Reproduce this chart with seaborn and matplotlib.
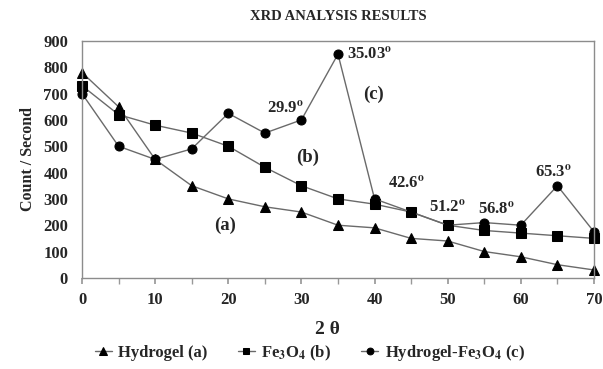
import numpy as np
import pandas as pd
import matplotlib
matplotlib.use("Agg")
import matplotlib.pyplot as plt
from matplotlib.ticker import MultipleLocator
import seaborn as sns

# dati
two_theta = [0, 5, 10, 15, 20, 25, 30, 35, 40, 45, 50, 55, 60, 65, 70]
hydrogel = [780, 650, 450, 350, 300, 270, 250, 200, 190, 150, 140, 100, 80, 50, 30]
fe3o4 = [730, 620, 580, 550, 500, 420, 350, 300, 280, 250, 200, 180, 170, 160, 150]
hydrogel_fe3o4 = [700, 500, 450, 490, 625, 550, 600, 850, 300, 250, 200, 210, 200, 350, 175]

series_names = ["Hydrogel (a)", "Fe$_\\mathbf{3}$O$_\\mathbf{4}$ (b)",
                "Hydrogel-Fe$_\\mathbf{3}$O$_\\mathbf{4}$ (c)"]
series_markers = ["^", "s", "o"]

peak_labels = ["29.9", "35.03", "42.6", "51.2", "56.8", "65.3"]
peak_pos = [(27.8, 646), (36.2, 850), (41.9, 361), (50.0, 270), (56.7, 262), (64.5, 403)]
curve_labels = ["(a)", "(b)", "(c)"]
curve_pos = [(19.5, 201), (30.8, 456), (39.8, 699)]

df = pd.DataFrame({"two_theta": two_theta, "a": hydrogel, "b": fe3o4, "c": hydrogel_fe3o4})

sns.set_theme(style="white")
plt.rcParams["font.family"] = ["Liberation Serif", "DejaVu Serif"]
plt.rcParams["font.weight"] = "bold"
plt.rcParams["mathtext.fontset"] = "stix"
plt.rcParams["mathtext.default"] = "bf"

fig = plt.figure(figsize=(6.03, 3.69), dpi=100)
ax = fig.add_axes([0.136, 0.247, 0.849, 0.642])

handles = []
for col, name, mk in zip(["a", "b", "c"], series_names, series_markers):
    sns.lineplot(data=df, x="two_theta", y=col, ax=ax, color="#6a6a6a", linewidth=1,
                 marker=mk, markersize=7.5 if mk == "^" else 6.5,
                 markerfacecolor="black", markeredgecolor="black", clip_on=False)
    handles.append(ax.lines[-1])

ax.set_xlim(0, 70)
ax.set_ylim(0, 900)
ax.xaxis.set_major_locator(MultipleLocator(10))
ax.xaxis.set_minor_locator(MultipleLocator(5))
ax.yaxis.set_major_locator(MultipleLocator(100))
ax.tick_params(axis="x", which="both", bottom=True, direction="out", length=4,
               color="#999999", labelsize=12, pad=6)
ax.tick_params(axis="y", left=False, labelsize=12, pad=4)
for lab in ax.get_xticklabels() + ax.get_yticklabels():
    lab.set_fontweight("bold")
for sp in ax.spines.values():
    sp.set_color("#8c8c8c")
    sp.set_linewidth(1)

ax.set_xlabel("")
ax.set_ylabel("Count / Second", fontsize=11.5, fontweight="bold", labelpad=5)
fig.text(327 / 603, 1 - 329 / 369, "2 θ", ha="center", va="center",
         fontsize=14, fontweight="bold")
fig.text(338 / 603, 1 - 17 / 369, "XRD ANALYSIS RESULTS", ha="center", va="center",
         fontsize=10.5, fontweight="bold")

for lab, (x, y) in zip(peak_labels, peak_pos):
    ha = "left" if lab in ("35.03", "42.6") else "center"
    ax.text(x, y, lab + "$^\\mathbf{o}$", ha=ha, va="center", fontsize=12,
            fontweight="bold")
for lab, (x, y) in zip(curve_labels, curve_pos):
    ax.text(x, y, lab, ha="center", va="center", fontsize=13.5, fontweight="bold")

fig.legend(handles, series_names, loc="center", bbox_to_anchor=(310 / 603, 1 - 353 / 369),
           ncol=3, frameon=False, handlelength=1.0, handletextpad=0.4, markerscale=0.75,
           columnspacing=1.8, prop={"weight": "bold", "size": 12})

fig.savefig("out.png", dpi=100)
